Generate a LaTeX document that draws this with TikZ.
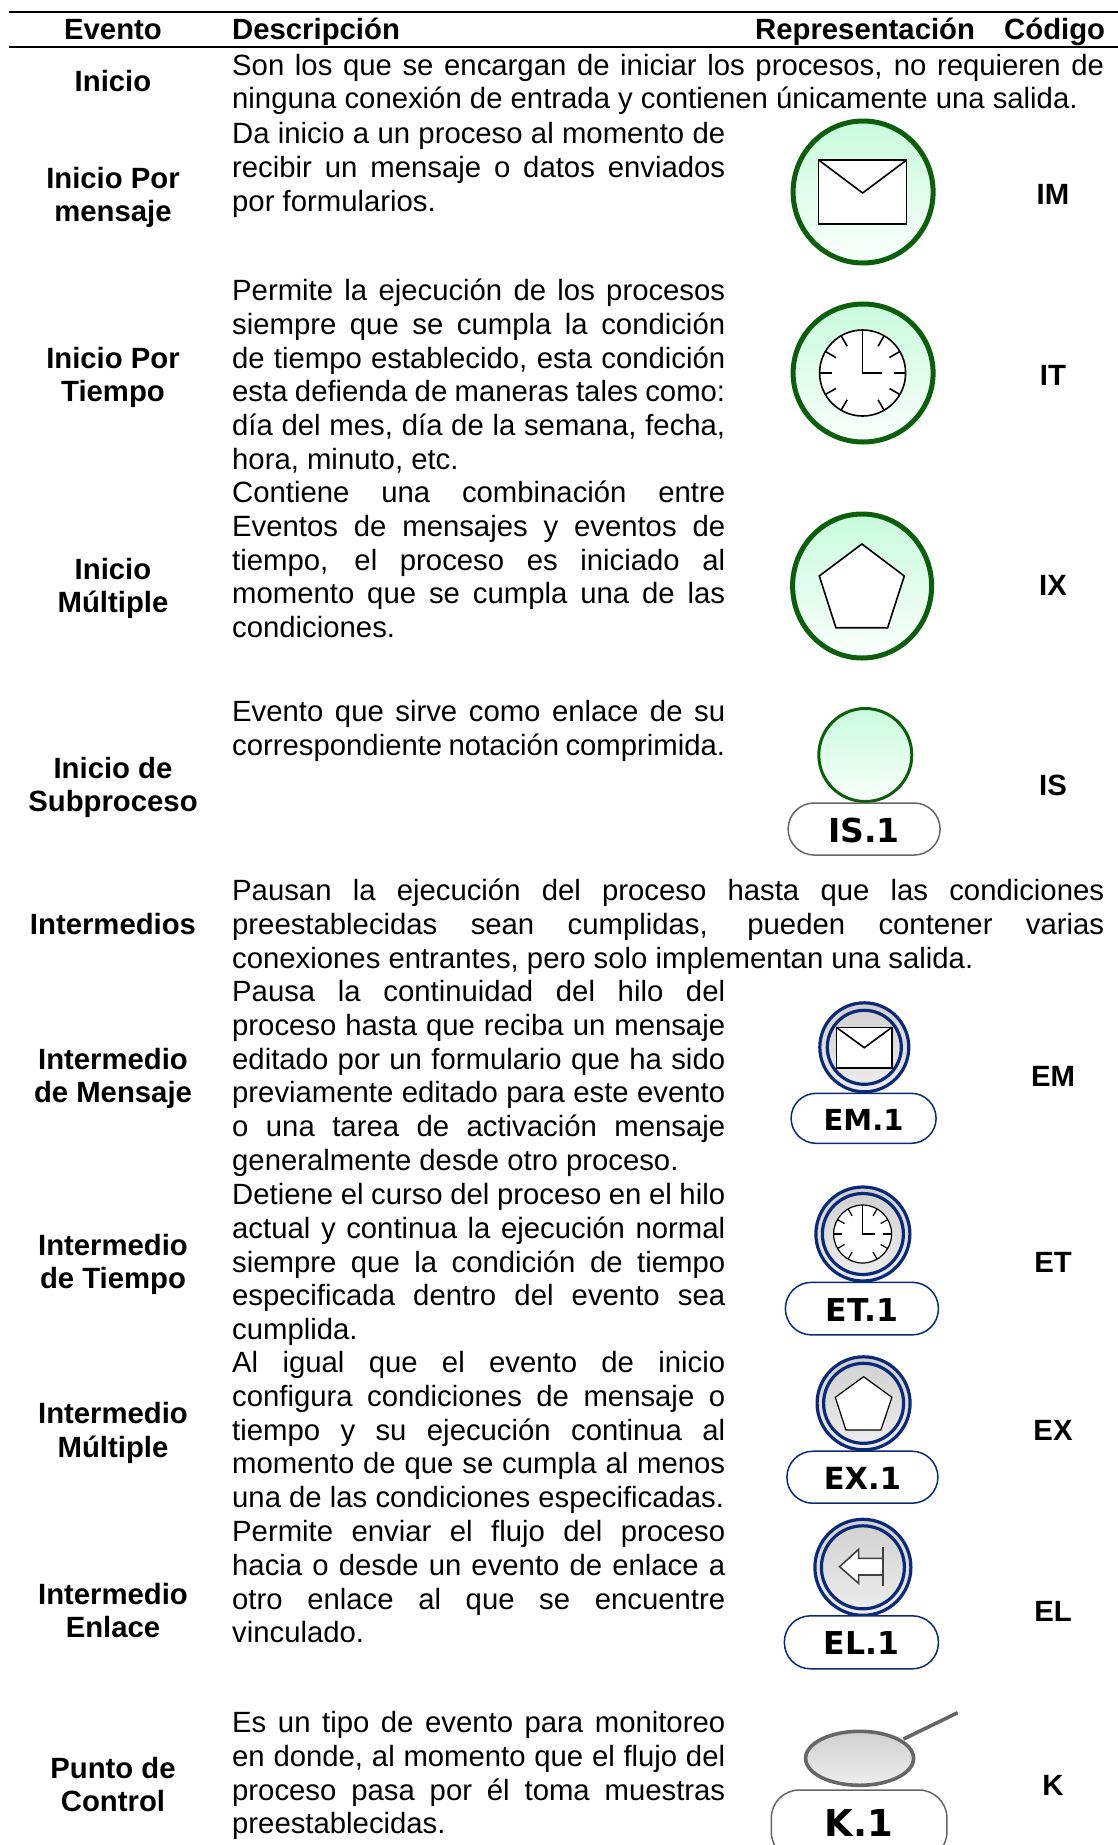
\documentclass[tikz,border=0pt]{standalone}
\usepackage{fontspec}
\setmainfont{Liberation Sans}
\newfontfamily\pillfamily{DejaVu Sans}
\newdimen\lw
\newcommand\jl[1]{\hbox to \lw{\spaceskip=.278em plus 1fil minus .12em\relax #1}}
\newcommand\nl[1]{\hbox{#1}}
\newcommand\cl[1]{\hbox to 0pt{\hss #1\hss}}
\newcommand\blk[2]{\vtop{\lw=#1pt\baselineskip=33.75pt #2}}
\newcommand\lbl[1]{\vtop{\baselineskip=33.75pt #1}}
\newcommand\ptx[2]{\smash{\raisebox{\dimexpr-.365em-#1pt\relax}{#2}}}
\definecolor{gdark}{HTML}{0B5F0B}
\definecolor{gtop}{HTML}{C8FBDC}
\definecolor{gbot}{HTML}{FAFFFC}
\definecolor{navy}{HTML}{0A2A78}
\definecolor{graytop}{HTML}{D0D0D0}
\definecolor{graybot}{HTML}{EEEEEE}
\definecolor{pillgray}{HTML}{666666}
\tikzset{
  txt/.style={anchor=base west,inner sep=0pt,font=\fontsize{29.3}{33.75}\selectfont},
  bold/.style={anchor=base,inner sep=0pt,font=\fontsize{29.3}{33.75}\selectfont\bfseries},
  hdr/.style={anchor=base west,inner sep=0pt,font=\fontsize{29.3}{33.75}\selectfont\bfseries},
  startc/.style={draw=gdark,line width=5pt,top color=gtop,bottom color=gbot},
  startthin/.style={draw=gdark,line width=3pt,top color=gtop,bottom color=gbot},
  interc/.style={draw=navy,line width=3.2pt,top color=graytop,bottom color=graybot},
  ring/.style={draw=navy,line width=3.2pt},
  glyph/.style={draw=black,fill=white,line width=1.6pt,line join=miter},
  pill/.style={draw=#1,line width=1.5pt,fill=white,inner sep=0pt,font=\pillfamily\bfseries},
  rule/.style={draw=black,line width=2pt}
}
\newcommand\clockicon[4]{% x y r linewidth
  \begin{scope}[shift={(#1,#2)},line width=#4]
    \draw[fill=white] (0,0) circle[radius=#3];
    \foreach \a in {0,30,60,120,150,180,210,240,270,300,330}
      \draw (\a:#3) -- (\a:{0.72*#3});
    \draw (0,{-#3}) -- (0,0) -- ({0.44*#3},0);
  \end{scope}}
\begin{document}
\begin{tikzpicture}[x=1pt,y=-1pt]
\useasboundingbox (0,0) rectangle (1118,1845);
% rules
\coordinate (r1a) at (9,12); \coordinate (r1b) at (1118,12);
\coordinate (r2a) at (9,47); \coordinate (r2b) at (1118,47);
\draw[rule] (r1a) -- (r1b);
\draw[rule] (r2a) -- (r2b);
% header
\node[bold] (hEvento) at (113,39.5) {Evento};
\node[hdr] (hDesc) at (232,39.5) {Descripción};
\node[hdr] (hRep) at (755,39.5) {Representación};
\node[hdr] (hCod) at (1004,39.5) {Código};
% event names
\node[bold] (nI) at (113,91.5) {\lbl{\cl{Inicio}}};
\node[bold] (nIM) at (113,188) {\lbl{\cl{Inicio Por}\cl{mensaje}}};
\node[bold] (nIT) at (113,368) {\lbl{\cl{Inicio Por}\cl{Tiempo}}};
\node[bold] (nIX) at (113,579) {\lbl{\cl{Inicio}\cl{Múltiple}}};
\node[bold] (nIS) at (113,778) {\lbl{\cl{Inicio de}\cl{Subproceso}}};
\node[bold] (nE) at (113,934) {\lbl{\cl{Intermedios}}};
\node[bold] (nEM) at (113,1069) {\lbl{\cl{Intermedio}\cl{de Mensaje}}};
\node[bold] (nET) at (113,1255) {\lbl{\cl{Intermedio}\cl{de Tiempo}}};
\node[bold] (nEX) at (113,1423.5) {\lbl{\cl{Intermedio}\cl{Múltiple}}};
\node[bold] (nEL) at (113,1604) {\lbl{\cl{Intermedio}\cl{Enlace}}};
\node[bold] (nK) at (113,1778) {\lbl{\cl{Punto de}\cl{Control}}};
% descriptions
\node[txt] (dI) at (232,75) {\blk{872}{\jl{Son los que se encargan de iniciar los procesos, no requieren de}\nl{ninguna conexión de entrada y contienen únicamente una salida.}}};
\node[txt] (dIM) at (232,143.5) {\blk{493}{\jl{Da inicio a un proceso al momento de}\jl{recibir un mensaje o datos enviados}\nl{por formularios.}}};
\node[txt] (dIT) at (232,300.5) {\blk{493}{\jl{Permite la ejecución de los procesos}\jl{siempre que se cumpla la condición}\jl{de tiempo establecido, esta condición}\jl{esta defienda de maneras tales como:}\jl{día del mes, día de la semana, fecha,}\nl{hora, minuto, etc.}}};
\node[txt] (dIX) at (232,502.7) {\blk{493}{\jl{Contiene una combinación entre}\jl{Eventos de mensajes y eventos de}\jl{tiempo, el proceso es iniciado al}\jl{momento que se cumpla una de las}\nl{condiciones.}}};
\node[txt] (dIS) at (232,721.7) {\blk{493}{\jl{Evento que sirve como enlace de su}\jl{correspondiente notación comprimida.}}};
\node[txt] (dE) at (232,900.7) {\blk{872}{\jl{Pausan la ejecución del proceso hasta que las condiciones}\jl{preestablecidas sean cumplidas, pueden contener varias}\nl{conexiones entrantes, pero solo implementan una salida.}}};
\node[txt] (dEM) at (232,1001.7) {\blk{493}{\jl{Pausa la continuidad del hilo del}\jl{proceso hasta que reciba un mensaje}\jl{editado por un formulario que ha sido}\jl{previamente editado para este evento}\jl{o una tarea de activación mensaje}\nl{generalmente desde otro proceso.}}};
\node[txt] (dET) at (232,1204.5) {\blk{493}{\jl{Detiene el curso del proceso en el hilo}\jl{actual y continua la ejecución normal}\jl{siempre que la condición de tiempo}\jl{especificada dentro del evento sea}\nl{cumplida.}}};
\node[txt] (dEX) at (232,1372.7) {\blk{493}{\jl{Al igual que el evento de inicio}\jl{configura condiciones de mensaje o}\jl{tiempo y su ejecución continua al}\jl{momento de que se cumpla al menos}\nl{una de las condiciones especificadas.}}};
\node[txt] (dEL) at (232,1541.7) {\blk{493}{\jl{Permite enviar el flujo del proceso}\jl{hacia o desde un evento de enlace a}\jl{otro enlace al que se encuentre}\nl{vinculado.}}};
\node[txt] (dK) at (232,1732.7) {\blk{493}{\jl{Es un tipo de evento para monitoreo}\jl{en donde, al momento que el flujo del}\jl{proceso pasa por él toma muestras}\nl{preestablecidas.}}};
% codes
\node[bold] (cIM) at (1053,204) {IM};
\node[bold] (cIT) at (1053,385.5) {IT};
\node[bold] (cIX) at (1053,595) {IX};
\node[bold] (cIS) at (1053,795) {IS};
\node[bold] (cEM) at (1053,1086) {EM};
\node[bold] (cET) at (1053,1272) {ET};
\node[bold] (cEX) at (1053,1440) {EX};
\node[bold] (cEL) at (1053,1621) {EL};
\node[bold] (cK) at (1053,1795) {K};
\begin{scope}[xshift=-1.4pt]
% IM icon
\draw[startc] (864.5,192) ellipse[x radius=70,y radius=71];
\draw[glyph] (820,160) rectangle (908,224);
\draw[glyph,fill=none] (820,160) -- (864,193) -- (908,160);
% IT icon
\draw[startc] (864.5,373) ellipse[x radius=70,y radius=69];
\clockicon{864}{373}{43}{1.6pt}
% IX icon
\draw[startc] (863.5,586) ellipse[x radius=69.5,y radius=72];
\draw[glyph] (863.3,544) -- (905.7,576) -- (889,627.7) -- (837.3,627.7) -- (820.7,576) -- cycle;
% IS icon
\draw[startthin] (866.7,755) circle[radius=46.5];
\node[pill=pillgray,minimum width=152pt,minimum height=52pt,rounded corners=26pt,font=\pillfamily\bfseries\fontsize{33}{33}\selectfont] (pIS) at (865.5,829) {\ptx{1}{IS.1}};
% EM icon
\draw[interc] (865.7,1047.3) circle[radius=44.5];
\draw[ring] (865.7,1047.3) circle[radius=37];
\draw[glyph] (837.7,1027.3) rectangle (893.3,1067.7);
\draw[glyph,fill=none] (837.7,1027.3) -- (865.7,1047.7) -- (893.3,1027.3);
\node[pill=navy,minimum width=145pt,minimum height=50pt,rounded corners=25pt,font=\pillfamily\bfseries\fontsize{29}{29}\selectfont] (pEM) at (865,1118.3) {\ptx{1.7}{EM.1}};
% ET icon
\draw[interc] (864.3,1234) circle[radius=47];
\draw[ring] (864.3,1234) circle[radius=40.5];
\clockicon{864}{1234}{29}{1.2pt}
\node[pill=navy,minimum width=153pt,minimum height=52.5pt,rounded corners=26pt,font=\pillfamily\bfseries\fontsize{31.5}{32}\selectfont] (pET) at (863.3,1308.6) {\ptx{1.4}{ET.1}};
% EX icon
\draw[interc] (865,1403.3) circle[radius=46.5];
\draw[ring] (865,1403.3) circle[radius=40];
\draw[glyph,line width=1.2pt] (865,1376.7) -- (893.3,1397.3) -- (882.3,1430) -- (847.3,1430) -- (836.7,1397.3) -- cycle;
\node[pill=navy,minimum width=151pt,minimum height=52pt,rounded corners=26pt,font=\pillfamily\bfseries\fontsize{30.5}{31}\selectfont] (pEX) at (863.8,1477.2) {\ptx{1.1}{EX.1}};
% EL icon
\draw[interc] (864.3,1567.3) circle[radius=48];
\draw[ring] (864.3,1567.3) circle[radius=41.5];
\draw[draw=black!75,fill=white,line width=1.6pt] (841,1566.7) -- (860,1549.3) -- (860,1558.3) -- (884.3,1558.3) -- (884.3,1575) -- (860,1575) -- (860,1583.3) -- cycle;
\draw[draw=black!75,line width=1.8pt] (884.3,1546.7) -- (884.3,1586);
\node[pill=navy,minimum width=154pt,minimum height=53pt,rounded corners=26pt,font=\pillfamily\bfseries\fontsize{31.5}{32}\selectfont] (pEL) at (862.8,1642.3) {\ptx{1}{EL.1}};
% K icon
\coordinate (kh1) at (905,1739); \coordinate (kh2) at (959,1712.7);
\draw[draw=pillgray,line width=3.6pt] (kh1) -- (kh2);
\draw[draw=pillgray,line width=3.6pt,top color=graytop,bottom color=graybot] (861,1758.3) ellipse[x radius=54,y radius=27];
\node[pill=pillgray,minimum width=175.6pt,minimum height=70pt,rounded corners=28pt,font=\pillfamily\bfseries\fontsize{37}{37}\selectfont] (pK) at (860.5,1825) {\ptx{-2}{K.1}};
\end{scope}
\end{tikzpicture}
\end{document}
